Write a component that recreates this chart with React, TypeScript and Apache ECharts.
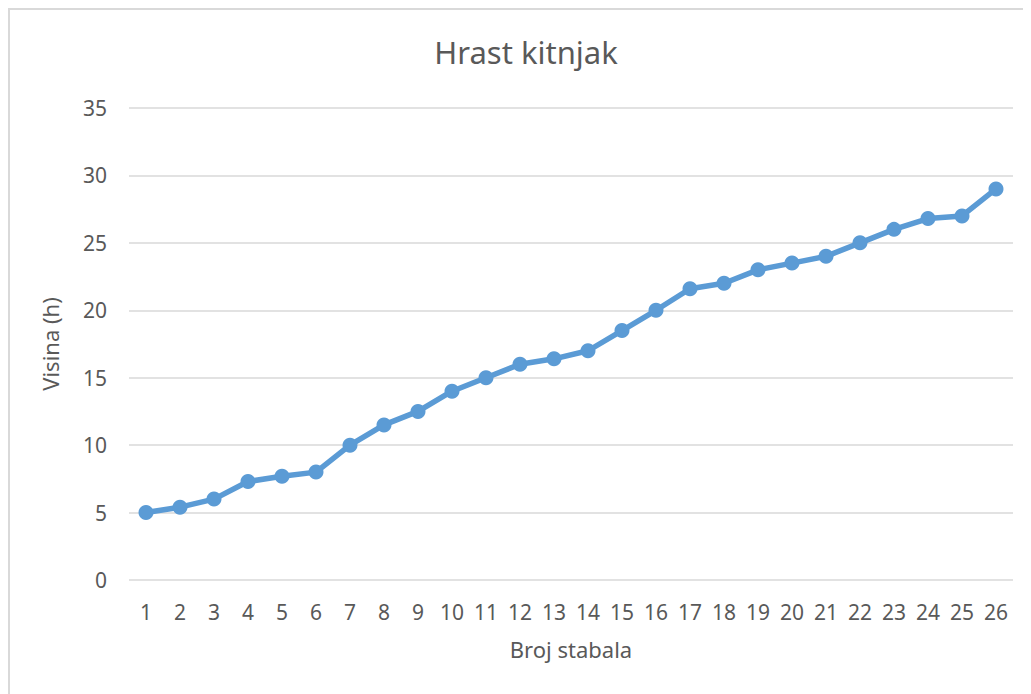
import React, { useEffect, useRef } from "react";
import * as echarts from "echarts";

const TITLE = "Hrast kitnjak";
const X_NAME = "Broj stabala";
const Y_NAME = "Visina (h)";
const categories = ["1","2","3","4","5","6","7","8","9","10","11","12","13","14","15","16","17","18","19","20","21","22","23","24","25","26"];
const heights = [5.0, 5.4, 6.0, 7.3, 7.7, 8.0, 10.0, 11.5, 12.5, 14.0, 15.0, 16.0, 16.4, 17.0, 18.5, 20.0, 21.6, 22.0, 23.0, 23.5, 24.0, 25.0, 26.0, 26.8, 27.0, 29.0];
const Y_MIN = 0;
const Y_MAX = 35;
const Y_STEP = 5;

const FONT = "'Noto Sans', sans-serif";
const TEXT = "#595959";

export default function App() {
  const ref = useRef<HTMLDivElement>(null);
  useEffect(() => {
    if (!ref.current) return;
    const chart = echarts.init(ref.current, undefined, { renderer: "svg" });
    chart.setOption({
      animation: false,
      backgroundColor: "#ffffff",
      textStyle: { fontFamily: FONT },
      title: {
        text: TITLE,
        left: "center",
        top: 21,
        textStyle: { fontFamily: FONT, fontSize: 31, fontWeight: "normal", color: TEXT },
      },
      grid: { left: 119, top: 98, width: 884, height: 472, containLabel: false },
      xAxis: {
        type: "category",
        data: categories,
        boundaryGap: true,
        name: X_NAME,
        nameLocation: "middle",
        nameGap: 58,
        nameTextStyle: { fontFamily: FONT, fontSize: 22, color: TEXT },
        axisLine: { show: false },
        axisTick: { show: false },
        axisLabel: { fontFamily: FONT, fontSize: 21, color: TEXT, margin: 21, interval: 0 },
      },
      yAxis: {
        type: "value",
        min: Y_MIN,
        max: Y_MAX,
        interval: Y_STEP,
        name: Y_NAME,
        nameLocation: "middle",
        nameGap: 68,
        nameRotate: 90,
        nameTextStyle: { fontFamily: FONT, fontSize: 22, color: TEXT },
        axisLine: { show: false },
        axisTick: { show: false },
        axisLabel: { fontFamily: FONT, fontSize: 21, color: TEXT, margin: 22 },
        splitLine: { lineStyle: { color: "#d9d9d9", width: 1.5 } },
      },
      series: [
        {
          type: "line",
          data: heights,
          symbol: "circle",
          symbolSize: 15,
          lineStyle: { color: "#5b9bd5", width: 5.5 },
          itemStyle: { color: "#5b9bd5" },
        },
      ],
    });
    return () => chart.dispose();
  }, []);
  return (
    <div
      style={{
        width: 1040,
        height: 700,
        borderTop: "2px solid #d9d9d9",
        borderLeft: "2px solid #d9d9d9",
        boxSizing: "border-box",
        background: "#fff",
      }}
    >
      <div ref={ref} style={{ width: 1032, height: 696 }} />
    </div>
  );
}
